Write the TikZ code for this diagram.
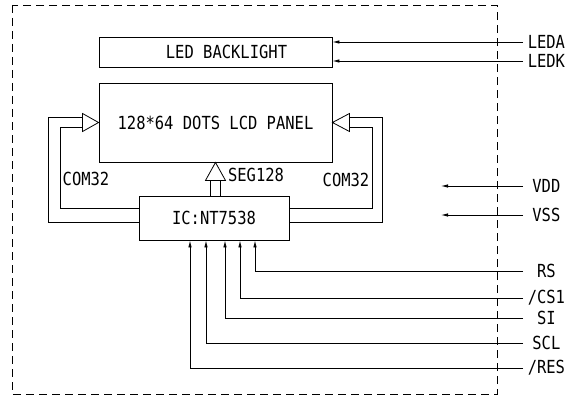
\documentclass[tikz,border=0pt]{standalone}
\usepackage{fontspec}
\newfontfamily\diagfont[FakeStretch=0.86]{DejaVu Sans Mono}
\usetikzlibrary{arrows.meta, positioning}

\tikzset{
  box/.style = {draw, line width=0.9pt, inner sep=0pt, font=\diagfont\fontsize{18}{18}\selectfont},
  lbl/.style = {inner sep=0pt, font=\diagfont\fontsize{18}{18}\selectfont},
  pin/.style = {lbl, anchor=west, minimum width=46pt},
  sig/.style = {-{Latex[length=7pt,width=3.5pt]}},
  bus/.style = {line width=0.8pt}
}

\begin{document}
\begin{tikzpicture}[x=1pt, y=-1pt, line width=0.8pt]
\useasboundingbox (0,0) rectangle (568,396);
% module outline
\draw[dash pattern=on 8pt off 5pt] (12,5) rectangle (497,394);

% blocks
\node[box, minimum width=233pt, minimum height=30pt] (led) at (215.5,52) {\hspace*{22pt}LED BACKLIGHT};
\node[box, minimum width=233pt, minimum height=79pt] (panel) at (215.5,122.5) {128*64 DOTS LCD PANEL};
\node[box, minimum width=150pt, minimum height=44pt] (ic) at (214,218) {IC:NT7538};

% pins
\node[pin] (leda) at (523,42) {LEDA};
\node[pin] (ledk) at (523,61) {LEDK};
\node[pin] (vdd) at (523,186) {VDD};
\node[pin] (vss) at (523,215) {VSS};
\node[pin] (rs) at (523,271) {RS};
\node[pin] (cs) at (523,298) {/CS1};
\node[pin] (si) at (523,318) {SI};
\node[pin] (scl) at (523,343) {SCL};
\node[pin] (res) at (523,368) {/RES};

% bus labels
\node[lbl] (comL) at (86,179) {COM32};
\node[lbl] (seg) at (256,175) {SEG128};
\node[lbl] (comR) at (346,180) {COM32};

% backlight
\draw[sig] (leda.west) -- (leda.west -| led.east);
\draw[sig] (ledk.west) -- (ledk.west -| led.east);

% supply
\draw[sig] (vdd.west) -- ++(-82,0);
\draw[sig] (vss.west) -- ++(-82,0);

% interface
\draw[sig] (rs.west) -| ([xshift=41pt]ic.south);
\draw[sig] (cs.west) -| ([xshift=26pt]ic.south);
\draw[sig] (si.west) -| ([xshift=11pt]ic.south);
\draw[sig] (scl.west) -| ([xshift=-8pt]ic.south);
\draw[sig] (res.west) -| ([xshift=-24pt]ic.south);

% COM32 left
\draw[bus] (panel.west) -- ++(-16,-9) -- ++(0,18) -- cycle;
\draw[bus] ([xshift=-16pt,yshift=5.5pt]panel.west) -| ([xshift=-90pt,yshift=-4pt]ic.west) -- ([yshift=-4pt]ic.west);
\draw[bus] ([xshift=-16pt,yshift=-4.5pt]panel.west) -| ([xshift=-78pt,yshift=10pt]ic.west) -- ([yshift=10pt]ic.west);

% COM32 right
\draw[bus] (panel.east) -- ++(17,-9) -- ++(0,18) -- cycle;
\draw[bus] ([xshift=17pt,yshift=5.5pt]panel.east) -| ([xshift=93pt,yshift=-4pt]ic.east) -- ([yshift=-4pt]ic.east);
\draw[bus] ([xshift=17pt,yshift=-4.5pt]panel.east) -| ([xshift=83pt,yshift=10pt]ic.east) -- ([yshift=10pt]ic.east);

% SEG128
\draw[bus] (panel.south) -- ++(-10,18) -- ++(20,0) -- cycle;
\coordinate (s1) at ([xshift=-5pt,yshift=-18pt]panel.south);
\coordinate (s2) at ([xshift=5pt,yshift=-18pt]panel.south);
\draw[bus] (s1) -- (s1 |- ic.north);
\draw[bus] (s2) -- (s2 |- ic.north);
\end{tikzpicture}
\end{document}
